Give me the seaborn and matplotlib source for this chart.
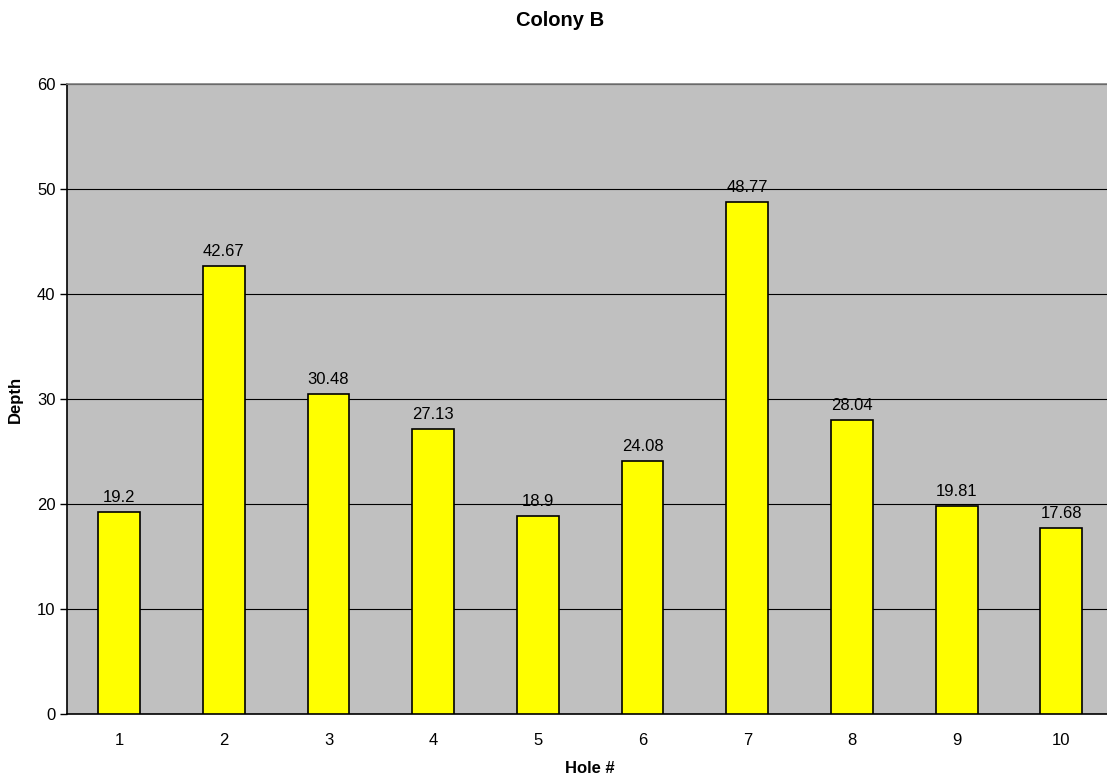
import matplotlib
matplotlib.use("Agg")
import matplotlib.pyplot as plt
import seaborn as sns
import pandas as pd

# Hole depths for Colony B
holes = ["1", "2", "3", "4", "5", "6", "7", "8", "9", "10"]
depths = [19.2, 42.67, 30.48, 27.13, 18.9, 24.08, 48.77, 28.04, 19.81, 17.68]
value_labels = ["19.2", "42.67", "30.48", "27.13", "18.9", "24.08", "48.77", "28.04", "19.81", "17.68"]
y_ticks = [0, 10, 20, 30, 40, 50, 60]

df = pd.DataFrame({"Hole #": holes, "Depth": depths})

sns.set_style("white")
plt.rcParams["font.family"] = ["Liberation Sans", "DejaVu Sans"]
plt.rcParams["text.color"] = "black"
plt.rcParams["axes.labelcolor"] = "black"
plt.rcParams["xtick.color"] = "black"
plt.rcParams["ytick.color"] = "black"

W, H = 1107, 781
fig = plt.figure(figsize=(W / 100, H / 100), dpi=100)
left, right, top, bottom = 66.7, 1113.7, 84, 714
ax = fig.add_axes([left / W, 1 - bottom / H, (right - left) / W, (bottom - top) / H])
ax.set_facecolor("#c0c0c0")

sns.barplot(data=df, x="Hole #", y="Depth", order=holes, color="#ffff00",
            saturation=1, width=0.4, edgecolor="black", linewidth=1.2, ax=ax, zorder=3)

ax.set_xlim(-0.5, len(holes) - 0.5)
ax.set_ylim(0, 60)
ax.set_yticks(y_ticks)
ax.yaxis.grid(True, color="black", linewidth=0.8, zorder=0)
ax.set_axisbelow(True)

# category boundary ticks on the x axis
ax.set_xticks([i - 0.5 for i in range(len(holes) + 1)], minor=True)
ax.tick_params(axis="x", which="major", length=0, pad=14, labelsize=12)
ax.tick_params(axis="x", which="minor", length=5, width=1, color="black", direction="out")
ax.tick_params(axis="y", length=5, width=1, color="black", direction="out", left=True,
               labelsize=12, pad=3)

for s in ["left", "bottom"]:
    ax.spines[s].set_color("black")
    ax.spines[s].set_linewidth(1.2)
ax.spines["top"].set_color("#808080")
ax.spines["top"].set_linewidth(1.2)
ax.spines["right"].set_visible(False)

ax.bar_label(ax.containers[0], labels=value_labels, padding=5, fontsize=12, color="black")

ax.set_xlabel("Hole #", fontsize=12, fontweight="bold", labelpad=9)
ax.set_ylabel("Depth", fontsize=12, fontweight="bold", labelpad=10)
fig.text(560 / W, 1 - 21 / H, "Colony B", ha="center", va="center",
         fontsize=14.5, fontweight="bold")

fig.savefig("out.png", dpi=100)
